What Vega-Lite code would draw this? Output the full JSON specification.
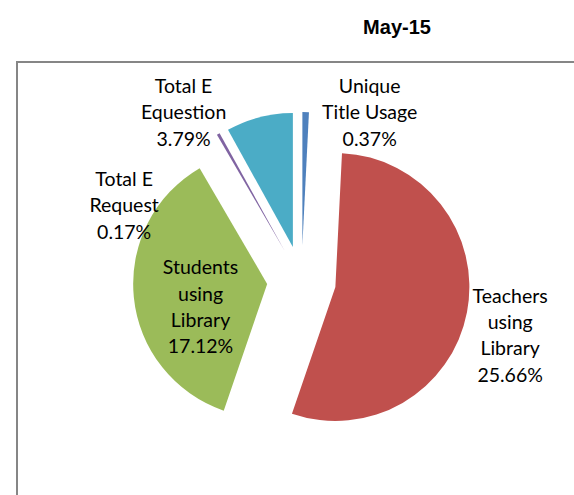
{
  "$schema": "https://vega.github.io/schema/vega-lite/v6.json",
  "width": 560,
  "height": 440,
  "autosize": {"type": "none"},
  "padding": {"left": 17, "top": 62, "right": -3, "bottom": -7},
  "background": "white",
  "config": {
    "view": {"stroke": "#868686", "strokeWidth": 2},
    "text": {"lineBreak": "\n"}
  },
  "title": {
    "text": "May-15",
    "font": "Liberation Sans",
    "fontSize": 20,
    "fontWeight": "bold",
    "color": "#000000",
    "anchor": "middle",
    "dx": 100,
    "offset": 8,
    "baseline": "alphabetic"
  },
  "data": {
    "values": [
      {"category": "Unique Title Usage", "label": "Unique\nTitle Usage\n0.37%", "pct": 0.37, "ord": 1},
      {"category": "Teachers using Library", "label": "Teachers\nusing\nLibrary\n25.66%", "pct": 25.66, "ord": 2},
      {"category": "Students using Library", "label": "Students\nusing\nLibrary\n17.12%", "pct": 17.12, "ord": 3},
      {"category": "Total E Request", "label": "Total E\nRequest\n0.17%", "pct": 0.17, "ord": 4},
      {"category": "Total E Equestion", "label": "Total E\nEquestion\n3.79%", "pct": 3.79, "ord": 5}
    ]
  },
  "transform": [
    {"joinaggregate": [{"op": "sum", "field": "pct", "as": "total"}]},
    {"window": [{"op": "sum", "field": "pct", "as": "cum"}], "sort": [{"field": "ord"}], "frame": [null, 0]},
    {"calculate": "datum.cum / datum.total", "as": "t1"},
    {"calculate": "(datum.cum - datum.pct) / datum.total", "as": "t0"},
    {"calculate": "(datum.t0 + datum.t1) / 2", "as": "tm"},
    {"calculate": "34.5 * sin(2 * PI * datum.tm)", "as": "ox"},
    {"calculate": "-34.5 * cos(2 * PI * datum.tm)", "as": "oy"}
  ],
  "encoding": {
    "x": {"field": "ox", "type": "quantitative", "scale": {"domain": [-284.5, 275.5], "nice": false, "zero": false}, "axis": null},
    "y": {"field": "oy", "type": "quantitative", "scale": {"domain": [-218.5, 221.5], "nice": false, "zero": false, "reverse": true}, "axis": null}
  },
  "layer": [
    {
      "mark": {"type": "arc", "radius": 134},
      "encoding": {
        "theta": {"field": "t0", "type": "quantitative", "scale": {"domain": [0, 1]}, "stack": null},
        "theta2": {"field": "t1"},
        "color": {
          "field": "category",
          "type": "nominal",
          "scale": {
            "domain": ["Unique Title Usage", "Teachers using Library", "Students using Library", "Total E Request", "Total E Equestion"],
            "range": ["#4F81BD", "#C0504D", "#9BBB59", "#8064A2", "#4BACC6"]
          },
          "legend": null
        }
      }
    },
    {
      "transform": [{"filter": "datum.category == 'Unique Title Usage'"}],
      "mark": {"type": "text", "radius": 135, "dx": 64, "dy": -24, "font": "Lato", "fontSize": 19.5, "lineHeight": 26.3, "align": "center", "baseline": "middle", "color": "#000000"},
      "encoding": {"theta": {"field": "tm", "type": "quantitative", "stack": null}, "text": {"field": "label"}}
    },
    {
      "transform": [{"filter": "datum.category == 'Teachers using Library'"}],
      "mark": {"type": "text", "radius": 181, "dx": -3, "dy": -24.5, "font": "Lato", "fontSize": 19.5, "lineHeight": 26.3, "align": "center", "baseline": "middle", "color": "#000000"},
      "encoding": {"theta": {"field": "tm", "type": "quantitative", "stack": null}, "text": {"field": "label"}}
    },
    {
      "transform": [{"filter": "datum.category == 'Students using Library'"}],
      "mark": {"type": "text", "radius": 69, "dx": 2, "dy": -22.5, "font": "Lato", "fontSize": 19.5, "lineHeight": 26.3, "align": "center", "baseline": "middle", "color": "#000000"},
      "encoding": {"theta": {"field": "tm", "type": "quantitative", "stack": null}, "text": {"field": "label"}}
    },
    {
      "transform": [{"filter": "datum.category == 'Total E Request'"}],
      "mark": {"type": "text", "radius": 118, "dx": -102, "dy": 32, "font": "Lato", "fontSize": 19.5, "lineHeight": 26.3, "align": "center", "baseline": "middle", "color": "#000000"},
      "encoding": {"theta": {"field": "tm", "type": "quantitative", "stack": null}, "text": {"field": "label"}}
    },
    {
      "transform": [{"filter": "datum.category == 'Total E Equestion'"}],
      "mark": {"type": "text", "radius": 157, "dx": -70, "dy": -8, "font": "Lato", "fontSize": 19.5, "lineHeight": 26.3, "align": "center", "baseline": "middle", "color": "#000000"},
      "encoding": {"theta": {"field": "tm", "type": "quantitative", "stack": null}, "text": {"field": "label"}}
    }
  ]
}
